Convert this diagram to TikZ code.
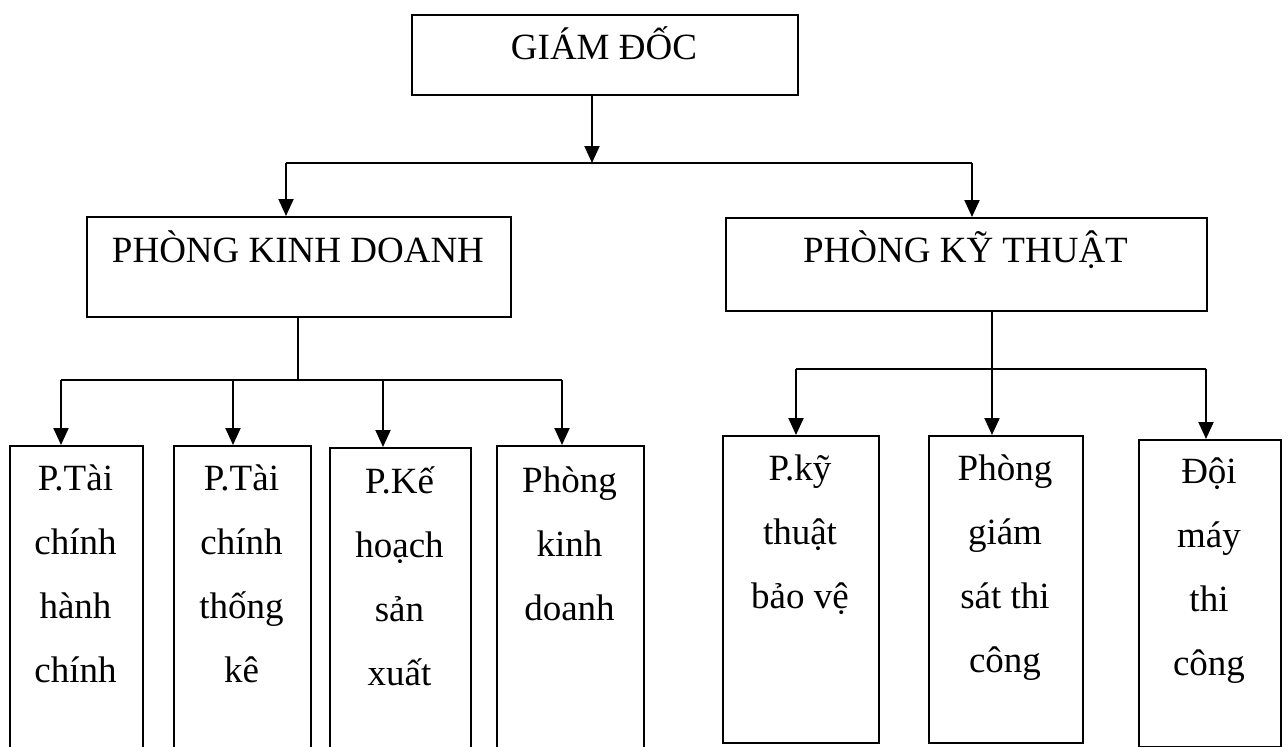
\documentclass[tikz,border=0pt]{standalone}
\usepackage{fontspec}
\setmainfont{Liberation Serif}
\usetikzlibrary{arrows.meta}

\begin{document}
\begin{tikzpicture}[x=1pt,y=-1pt,
  box/.style={draw, line width=2pt, inner sep=0pt, anchor=north west},
  title/.style={font=\fontsize{37}{44}\selectfont, anchor=base, inner sep=0pt},
  % multi-line labels are placed by the baseline of their last line
  lbl/.style={font=\fontsize{37}{64}\selectfont, align=center, anchor=base, inner sep=0pt},
  conn/.style={line width=2pt},
  arr/.style={conn, -{Triangle[width=15pt,length=17pt]}}]
\useasboundingbox (0,0) rectangle (1288,747);
\clip (0,0) rectangle (1288,747);

% top level
\node[box, minimum width=386pt, minimum height=80pt] (gd) at (411,14) {};
\node[title] (gdt) at (604,59) {GIÁM ĐỐC};

% departments
\node[box, minimum width=424pt, minimum height=100pt] (pkd) at (86,216) {};
\node[title] (pkdt) at (298,262) {PHÒNG KINH DOANH};
\node[box, minimum width=481pt, minimum height=93pt] (pkt) at (725,217) {};
\node[title] (pktt) at (965.5,262) {PHÒNG KỸ THUẬT};

% business units
\node[box, minimum width=133pt, minimum height=320pt] (b1) at (9,445) {};
\node[lbl] (t1) at (75.5,682) {P.Tài\\chính\\hành\\chính};
\node[box, minimum width=137pt, minimum height=320pt] (b2) at (173,445) {};
\node[lbl] (t2) at (241.5,682) {P.Tài\\chính\\thống\\kê};
\node[box, minimum width=141pt, minimum height=320pt] (b3) at (329,447) {};
\node[lbl] (t3) at (399.5,685) {P.Kế\\hoạch\\sản\\xuất};
\node[box, minimum width=147pt, minimum height=320pt] (b4) at (496,445) {};
\node[lbl] (t4) at (569.5,620) {Phòng\\kinh\\doanh};

% technical units
\node[box, minimum width=156pt, minimum height=307pt] (b5) at (722,435) {};
\node[lbl] (t5) at (800,608) {P.kỹ\\thuật\\bảo vệ};
\node[box, minimum width=154pt, minimum height=307pt] (b6) at (928,435) {};
\node[lbl] (t6) at (1005,672) {Phòng\\giám\\sát thi\\công};
\node[box, minimum width=142pt, minimum height=307pt] (b7) at (1138,439) {};
\node[lbl] (t7) at (1209,675) {Đội\\máy\\thi\\công};

% junction points
\coordinate (j0) at (592,163);
\coordinate (jl) at (286,163);
\coordinate (jr) at (972,163);
\coordinate (k0) at (298,380);
\coordinate (k1) at (61,380);
\coordinate (k2) at (233,380);
\coordinate (k3) at (383,380);
\coordinate (k4) at (562,380);
\coordinate (m0) at (992,369);
\coordinate (m1) at (796,369);
\coordinate (m3) at (1206,369);

% director to departments
\draw[arr] (gd.south -| j0) -- (j0);
\draw[conn] (jl) -- (jr);
\draw[arr] (jl) -- (pkd.north -| jl);
\draw[arr] (jr) -- (pkt.north -| jr);

% business branch
\draw[line width=1.4pt] (pkd.south -| k0) -- (k0);
\draw[conn] (k1) -- (k4);
\draw[arr] (k1) -- (b1.north -| k1);
\draw[arr] (k2) -- (b2.north -| k2);
\draw[arr] (k3) -- (b3.north -| k3);
\draw[arr] (k4) -- (b4.north -| k4);

% technical branch
\draw[conn] (pkt.south -| m0) -- (m0);
\draw[conn] (m1) -- (m3);
\draw[arr] (m1) -- (b5.north -| m1);
\draw[arr] (m0) -- (b6.north -| m0);
\draw[arr] (m3) -- (b7.north -| m3);
\end{tikzpicture}
\end{document}
